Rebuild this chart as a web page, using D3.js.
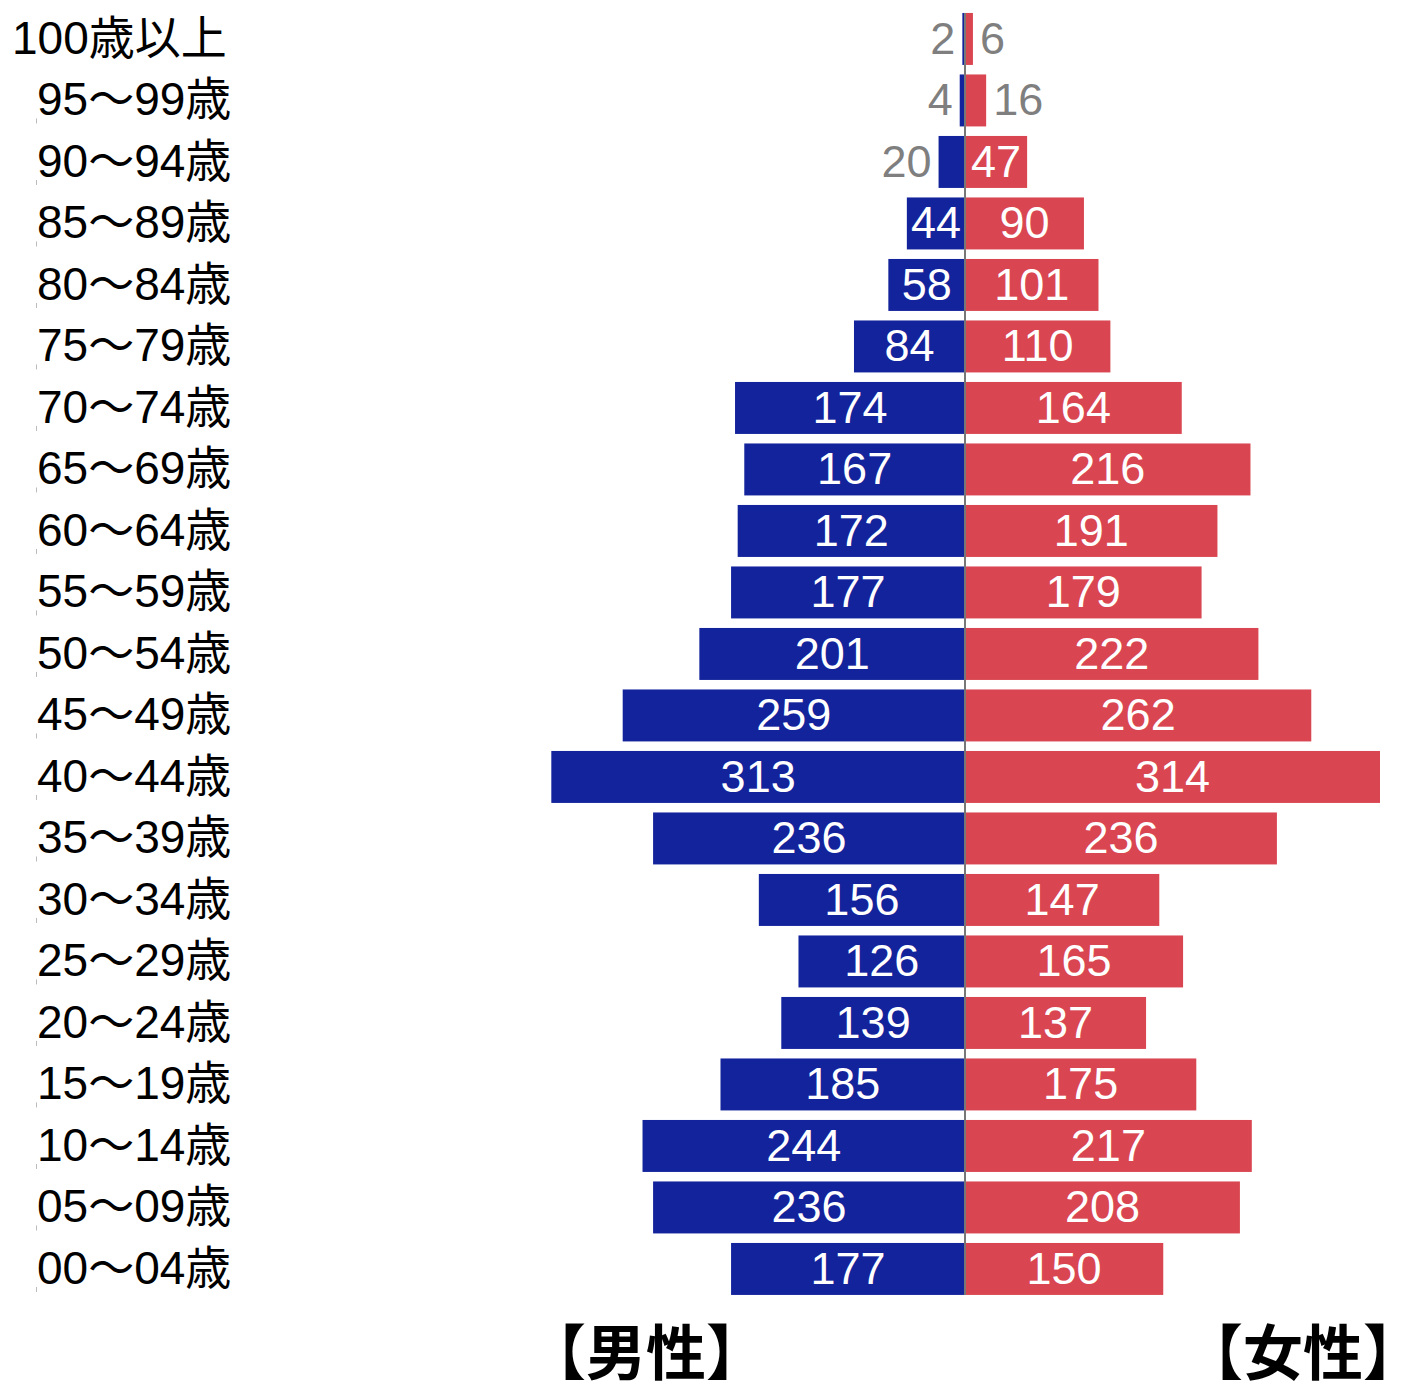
<!DOCTYPE html>
<html>
<head>
<meta charset="utf-8">
<script src="https://cdn.jsdelivr.net/npm/d3@7"></script>
<style>
  body { margin: 0; background: #fff; }
  text { font-family: "Liberation Sans", Arial, "Noto Sans CJK JP", sans-serif; }
</style>
</head>
<body>
<script>
// age groups, top to bottom
var ages = ["100歳以上", "95～99歳", "90～94歳", "85～89歳", "80～84歳", "75～79歳",
            "70～74歳", "65～69歳", "60～64歳", "55～59歳", "50～54歳", "45～49歳",
            "40～44歳", "35～39歳", "30～34歳", "25～29歳", "20～24歳", "15～19歳",
            "10～14歳", "05～09歳", "00～04歳"];
var male   = [2, 4, 20, 44, 58, 84, 174, 167, 172, 177, 201, 259, 313, 236, 156, 126, 139, 185, 244, 236, 177];
var female = [6, 16, 47, 90, 101, 110, 164, 216, 191, 179, 222, 262, 314, 236, 147, 165, 137, 175, 217, 208, 150];
var sexLabels = ["【男性】", "【女性】"];

var W = 1408, H = 1391;
var cx = 965;            // centre axis
var blue = "#13239b", red = "#d94651", grey = "#7f7f7f";

var svg = d3.select("body").append("svg")
    .attr("width", W)
    .attr("height", H);

var len = d3.scaleLinear()
    .domain([0, 314])
    .range([0, 415]);

var y = d3.scaleBand()
    .domain(ages)
    .range([8.2, 1299.7])
    .paddingInner(0.155)
    .paddingOuter(0.0775);

var bw = y.bandwidth();

// male bars
svg.selectAll("rect.m")
    .data(ages)
  .enter().append("rect")
    .attr("class", "m")
    .attr("x", function(d, i) { return cx - len(male[i]); })
    .attr("y", function(d) { return y(d); })
    .attr("width", function(d, i) { return len(male[i]); })
    .attr("height", bw)
    .attr("fill", blue);

// female bars
svg.selectAll("rect.f")
    .data(ages)
  .enter().append("rect")
    .attr("class", "f")
    .attr("x", cx)
    .attr("y", function(d) { return y(d); })
    .attr("width", function(d, i) { return len(female[i]); })
    .attr("height", bw)
    .attr("fill", red);

// centre line
svg.append("line")
    .attr("x1", cx).attr("x2", cx)
    .attr("y1", y(ages[0]))
    .attr("y2", y(ages[ages.length - 1]) + bw)
    .attr("stroke", "#777")
    .attr("stroke-width", 2);

// value labels: inside (white) when they fit, otherwise outside (grey)
function valueLabels(vals, side) {
  svg.selectAll("text.v" + side)
      .data(ages)
    .enter().append("text")
      .attr("class", "v" + side)
      .attr("font-size", 45)
      .attr("y", function(d) { return y(d) + bw / 2 + 15; })
      .text(function(d, i) { return vals[i]; })
      .each(function(d, i) {
        var t = d3.select(this);
        var w = this.getComputedTextLength();
        var L = len(vals[i]);
        if (w + 6 < L) {
          t.attr("x", cx + side * L / 2).attr("text-anchor", "middle").attr("fill", "#fff");
        } else {
          t.attr("x", cx + side * (L + 7))
           .attr("text-anchor", side < 0 ? "end" : "start")
           .attr("fill", grey);
        }
      });
}
valueLabels(male, -1);
valueLabels(female, 1);

// age labels
svg.selectAll("text.age")
    .data(ages)
  .enter().append("text")
    .attr("class", "age")
    .attr("x", function(d, i) { return i === 0 ? 12 : 37; })
    .attr("y", function(d) { return y(d) + bw / 2 + 15; })
    .attr("font-size", 46)
    .attr("fill", "#000")
    .text(function(d) { return d; });

// small axis ticks
svg.selectAll("line.tk")
    .data(ages.slice(1))
  .enter().append("line")
    .attr("class", "tk")
    .attr("x1", 36.5).attr("x2", 36.5)
    .attr("y1", function(d) { return y(d) + bw / 2 + 18; })
    .attr("y2", function(d) { return y(d) + bw / 2 + 23; })
    .attr("stroke", "#bbb")
    .attr("stroke-width", 1);

// sex labels
svg.selectAll("text.sex")
    .data(sexLabels)
  .enter().append("text")
    .attr("class", "sex")
    .attr("x", function(d, i) { return i === 0 ? 646 : 1303; })
    .attr("y", 1375)
    .attr("text-anchor", "middle")
    .attr("font-size", 60)
    .attr("font-weight", "bold")
    .style("font-family", "'Noto Sans CJK JP', sans-serif")
    .attr("fill", "#000")
    .text(function(d) { return d; });
</script>
</body>
</html>
